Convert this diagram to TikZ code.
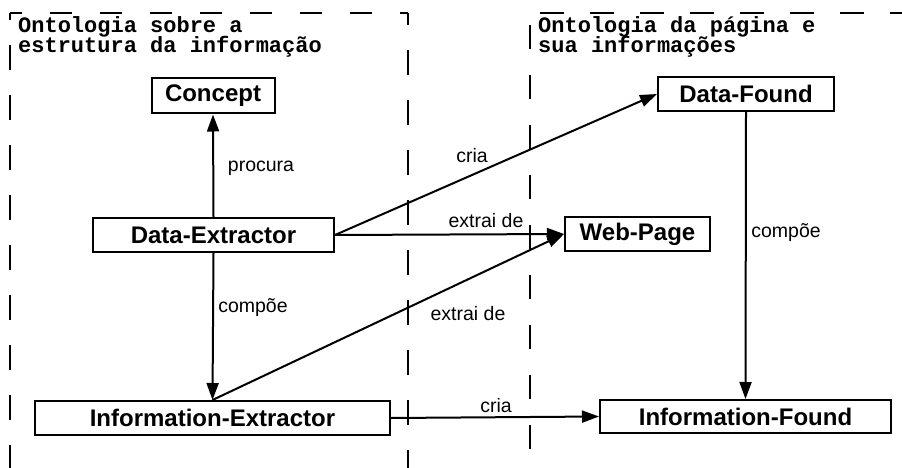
\documentclass[tikz,border=0pt]{standalone}
\usepackage{fontspec}
\setmainfont{Liberation Sans}
\newfontfamily\monofnt{Liberation Mono}
\usetikzlibrary{arrows.meta}
\begin{document}
\begin{tikzpicture}[x=1pt,y=-1pt,
  box/.style={draw, line width=2pt, inner sep=0pt, font=\fontsize{24}{28}\selectfont\bfseries},
  conn/.style={line width=2pt, -{Triangle[length=17pt,width=12pt]}},
  lbl/.style={font=\fontsize{19.5}{23}\selectfont, inner sep=0pt},
  ttl/.style={font=\monofnt\bfseries\fontsize{22}{20}\selectfont, inner sep=0pt, anchor=base west},
  region/.style={line width=2pt}]
\useasboundingbox (0,0) rectangle (902,468);

% region boundaries
\draw[region, dash pattern=on 22pt off 28pt, dash phase=10pt] (10,13) -- (408,13);
\draw[region, dash pattern=on 25pt off 25pt, dash phase=18pt] (10,13) -- (10,468);
\draw[region, dash pattern=on 25pt off 25pt, dash phase=13pt] (408,13) -- (408,468);
\draw[region, dash pattern=on 24pt off 26pt, dash phase=40pt] (530,13) -- (902,13);
\draw[region, dash pattern=on 24pt off 26pt, dash phase=38pt] (530,13) -- (530,468);

% titles
\node[ttl] (t1a) at (18,33) {Ontologia sobre a};
\node[ttl] (t1b) at (18,53) {estrutura da informação};
\node[ttl] (t2a) at (538,33) {Ontologia da página e};
\node[ttl] (t2b) at (538,53) {sua informações};

% boxes
\node[box, minimum width=123pt, minimum height=35pt] (concept) at (213,96) {Concept};
\node[box, minimum width=176pt, minimum height=34pt] (dfound) at (746,94) {Data-Found};
\node[box, minimum width=241pt, minimum height=34pt] (dext) at (213.5,235) {Data-Extractor};
\node[box, minimum width=145pt, minimum height=34pt] (web) at (637.5,234) {Web-Page};
\node[box, minimum width=355pt, minimum height=34pt] (iext) at (212.5,418) {Information-Extractor};
\node[box, minimum width=291pt, minimum height=33pt] (ifound) at (745.5,416.5) {Information-Found};

% connectors
\draw[conn] (dext.north) -- (concept.south);
\draw[conn] (dext.east) -- (dfound.west);
\draw[conn] (dext.east) -- (web.west);
\draw[conn] (dext.south) -- (iext.north);
\draw[conn] (iext.north) -- (web.west);
\draw[conn] (iext.east) -- (ifound.west);
\draw[conn] (dfound.south) -- (ifound.north);

% labels
\node[lbl] (l1) at (261,168) {procura};
\node[lbl] (l2) at (253,308) {compõe};
\node[lbl] (l3) at (472,156) {cria};
\node[lbl] (l4) at (486,221) {extrai de};
\node[lbl] (l5) at (468,314) {extrai de};
\node[lbl] (l6) at (496,406) {cria};
\node[lbl] (l7) at (786,233) {compõe};
\end{tikzpicture}
\end{document}
